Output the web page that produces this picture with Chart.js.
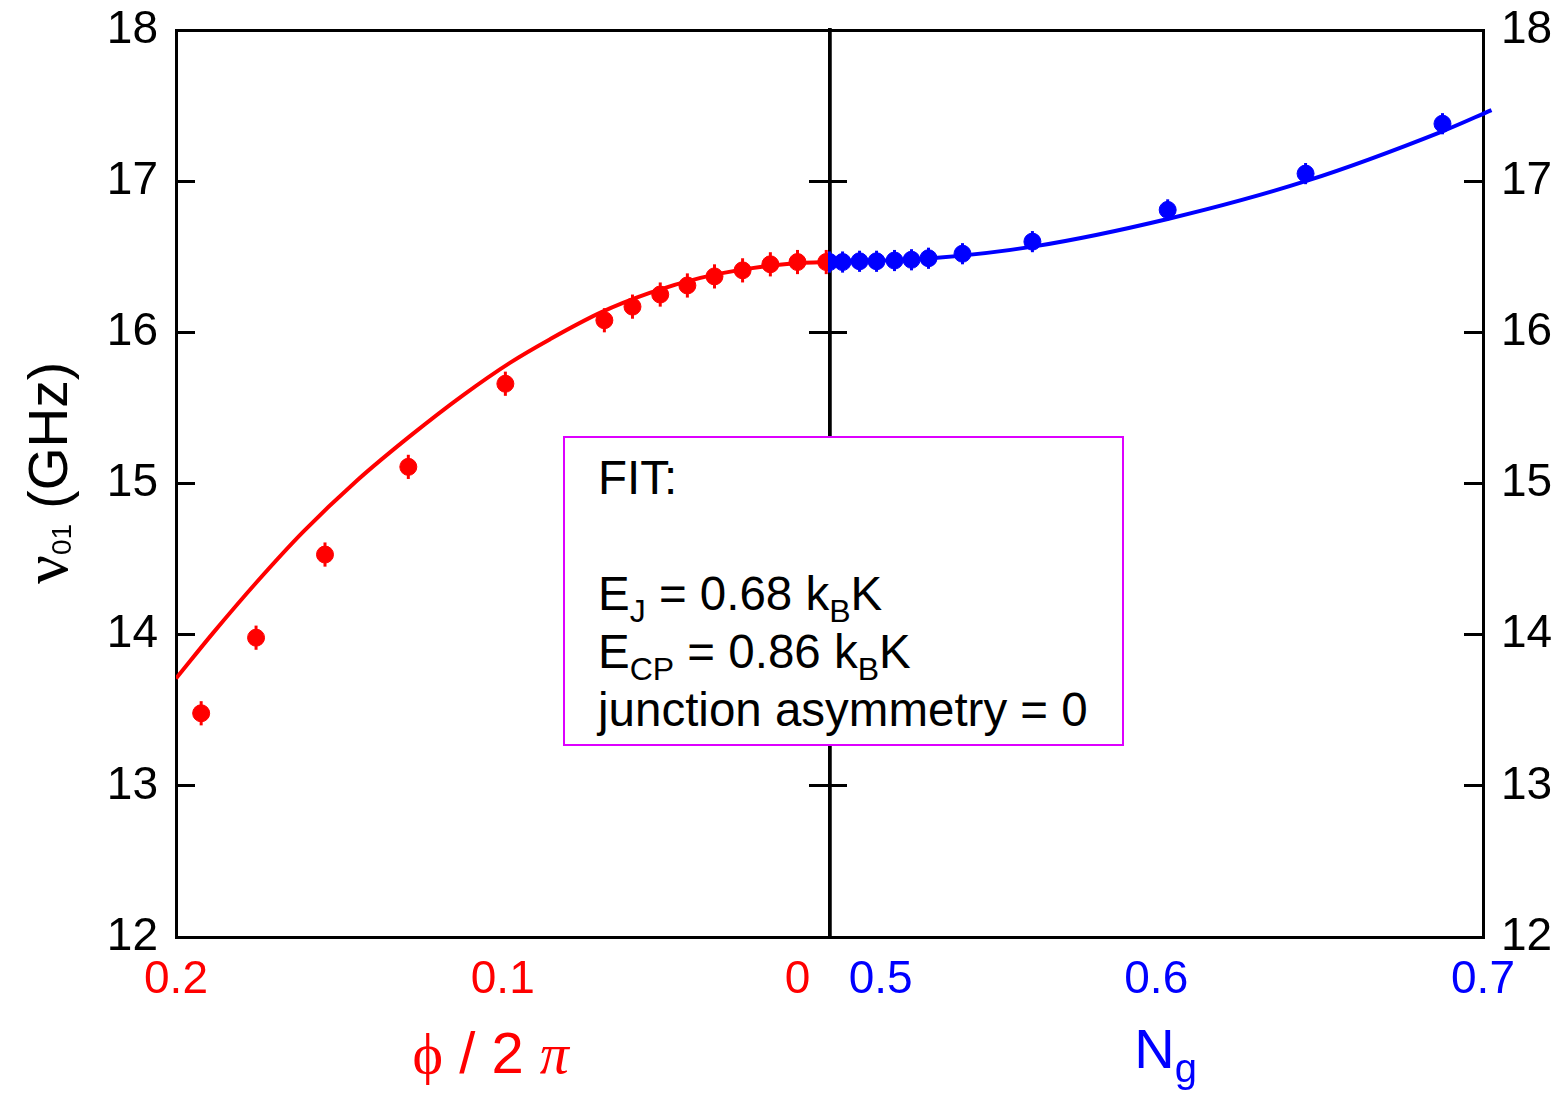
<!DOCTYPE html>
<html>
<head>
<meta charset="utf-8">
<script src="https://cdn.jsdelivr.net/npm/chart.js@4.4.1/dist/chart.umd.min.js"></script>
<style>
  html, body { margin: 0; padding: 0; background: #fff; }
  #wrap { position: relative; width: 1564px; height: 1093px; }
  #fitbox {
    position: absolute; left: 563px; top: 436px; width: 524px; height: 295px;
    padding: 11px 0 0 33px;
    border: 2px solid #dd00ff; background: #fff;
    font: 47.5px 'Liberation Sans', Arial, sans-serif; line-height: 58px; color: #000;
  }
  #fitbox sub { font-size: 32px; line-height: 0; vertical-align: -12px; }
</style>
</head>
<body>
<div id="wrap">
  <canvas id="chart"></canvas>
  <div id="fitbox">
    <div>FIT:</div>
    <div>&nbsp;</div>
    <div>E<sub>J</sub> = 0.68 k<sub>B</sub>K</div>
    <div>E<sub>CP</sub> = 0.86 k<sub>B</sub>K</div>
    <div>junction asymmetry = 0</div>
  </div>
</div>
<script>
// flux side (phi / 2pi), measured points
const phiData   = [0.1923, 0.1755, 0.1544, 0.1289, 0.0992, 0.0689, 0.0603, 0.0518, 0.0435, 0.0352, 0.0266, 0.0181, 0.0098, 0.0010];
const nuPhiData = [13.48, 13.98, 14.53, 15.11, 15.66, 16.08, 16.17, 16.25, 16.31, 16.37, 16.41, 16.45, 16.465, 16.465];
const errPhi    = [0.08, 0.08, 0.08, 0.08, 0.08, 0.08, 0.08, 0.08, 0.08, 0.08, 0.08, 0.08, 0.08, 0.08];
// flux side fit
const phiFit   = [0.200, 0.1887, 0.1752, 0.1611, 0.1446, 0.1283, 0.1121, 0.0977, 0.0855, 0.0701, 0.0548, 0.0395, 0.0242, 0.0089, 0];
const nuPhiFit = [13.71, 14.01, 14.35, 14.68, 15.02, 15.315, 15.585, 15.80, 15.955, 16.13, 16.262, 16.36, 16.423, 16.458, 16.465];

// charge side (Ng), measured points
const ngData   = [0.5, 0.504, 0.5092, 0.5144, 0.5199, 0.5251, 0.5303, 0.5407, 0.5621, 0.6035, 0.6457, 0.6876];
const nuNgData = [16.465, 16.465, 16.47, 16.47, 16.475, 16.48, 16.49, 16.52, 16.60, 16.81, 17.05, 17.38];
const errNg    = [0.07, 0.07, 0.07, 0.07, 0.07, 0.07, 0.07, 0.07, 0.07, 0.07, 0.07, 0.07];
// charge side fit
const ngFit   = [0.5, 0.5312, 0.5622, 0.6035, 0.6457, 0.6876, 0.7026];
const nuNgFit = [16.465, 16.49, 16.567, 16.75, 17.0, 17.33, 17.47];

// ticks
const yTicks = [12, 13, 14, 15, 16, 17, 18];
const phiTicks = [0.2, 0.1, 0];
const phiTickLabels = ['0.2', '0.1', '0'];
const ngTicks = [0.5, 0.6, 0.7];
const ngTickLabels = ['0.5', '0.6', '0.7'];

const RED = '#ff0000';
const BLUE = '#0000ff';
const SANS = "'Liberation Sans', Arial, sans-serif";
const SERIF = "'Liberation Serif', 'DejaVu Serif', serif";

function pts(xs, ys) {
  return xs.map((x, i) => ({ x: x, y: ys[i] }));
}

// error bars, drawn from the dataset's errs array
const errorBars = {
  id: 'errorBars',
  afterDatasetsDraw(chart) {
    const ctx = chart.ctx;
    const y = chart.scales.y;
    chart.data.datasets.forEach(ds => {
      if (!ds.errs) return;
      const xs = chart.scales[ds.xAxisID];
      ctx.save();
      ctx.strokeStyle = ds.backgroundColor;
      ctx.lineWidth = 3;
      ds.data.forEach((p, j) => {
        const px = xs.getPixelForValue(p.x);
        ctx.beginPath();
        ctx.moveTo(px, y.getPixelForValue(p.y - ds.errs[j]));
        ctx.lineTo(px, y.getPixelForValue(p.y + ds.errs[j]));
        ctx.stroke();
      });
      ctx.restore();
    });
  }
};

function drawRich(ctx, parts, x, y, center) {
  let w = 0;
  parts.forEach(p => { ctx.font = p[1]; w += ctx.measureText(p[0]).width; });
  let cx = center ? x - w / 2 : x;
  parts.forEach(p => {
    ctx.font = p[1];
    ctx.fillText(p[0], cx, y + (p[2] || 0));
    cx += ctx.measureText(p[0]).width;
  });
}

// axis titles with subscripts
const axisTitles = {
  id: 'axisTitles',
  afterDraw(chart) {
    const ctx = chart.ctx;
    const xp = chart.scales.xPhi, xn = chart.scales.xNg;
    ctx.save();
    ctx.textBaseline = 'alphabetic';
    ctx.textAlign = 'left';

    ctx.fillStyle = RED;
    drawRich(ctx, [
      ['\u03d5', '58px ' + SERIF],
      [' / 2 ', '58px ' + SANS],
      ['\u03c0', 'italic 58px ' + SERIF]
    ], (xp.left + xp.right) / 2 - 12, 1073, true);

    ctx.fillStyle = BLUE;
    drawRich(ctx, [
      ['N', '56px ' + SANS],
      ['g', '40px ' + SANS, 14]
    ], (xn.left + xn.right) / 2 - 22, 1068, false);

    ctx.fillStyle = '#000';
    ctx.translate(67, 473);
    ctx.rotate(-Math.PI / 2);
    drawRich(ctx, [
      ['\u03bd', '64px ' + SERIF],
      ['01', '28px ' + SANS, 4],
      [' (GHz)', '55px ' + SANS]
    ], 0, 0, true);
    ctx.restore();
  }
};

const tickFont = { family: SANS, size: 46 };

function yFit(width) {
  return s => { s.width = width; s.paddingTop = 0; s.paddingBottom = 0; };
}

new Chart(document.getElementById('chart'), {
  type: 'scatter',
  data: {
    datasets: [
      {
        label: 'fit phi', data: pts(phiFit, nuPhiFit), xAxisID: 'xPhi', yAxisID: 'y',
        showLine: true, borderColor: RED, borderWidth: 4, pointRadius: 0,
        cubicInterpolationMode: 'monotone', order: 4
      },
      {
        label: 'data phi', data: pts(phiData, nuPhiData), errs: errPhi, xAxisID: 'xPhi', yAxisID: 'y',
        backgroundColor: RED, borderColor: RED, pointRadius: 8.5, pointBorderWidth: 1, order: 3
      },
      {
        label: 'fit Ng', data: pts(ngFit, nuNgFit), xAxisID: 'xNg', yAxisID: 'y',
        showLine: true, borderColor: BLUE, borderWidth: 4, pointRadius: 0, clip: false,
        cubicInterpolationMode: 'monotone', order: 2
      },
      {
        label: 'data Ng', data: pts(ngData, nuNgData), errs: errNg, xAxisID: 'xNg', yAxisID: 'y',
        backgroundColor: BLUE, borderColor: BLUE, pointRadius: 8.5, pointBorderWidth: 1, order: 1
      }
    ]
  },
  options: {
    responsive: true,
    maintainAspectRatio: false,
    animation: false,
    layout: { padding: 0 },
    plugins: { legend: { display: false }, tooltip: { enabled: false } },
    scales: {
      xPhi: {
        type: 'linear', position: 'bottom', stack: 'bottomAxes', stackWeight: 1,
        min: 0, max: 0.2, reverse: true,
        afterBuildTicks: s => { s.ticks = phiTicks.map(v => ({ value: v })); },
        afterFit: s => { s.height = 156; },
        ticks: {
          color: RED, font: tickFont, padding: 16, maxRotation: 0, autoSkip: false,
          callback: v => {
            const t = phiTickLabels[phiTicks.indexOf(v)];
            return v === 0 ? t + '     ' : t;
          }
        },
        grid: { display: false, drawTicks: false },
        border: { color: '#000', width: 3 }
      },
      xNg: {
        type: 'linear', position: 'bottom', stack: 'bottomAxes', stackWeight: 1,
        min: 0.5, max: 0.7,
        afterBuildTicks: s => { s.ticks = ngTicks.map(v => ({ value: v })); },
        afterFit: s => { s.height = 156; },
        ticks: {
          color: BLUE, font: tickFont, padding: 16, maxRotation: 0, autoSkip: false,
          callback: v => {
            const t = ngTickLabels[ngTicks.indexOf(v)];
            return v === 0.5 ? '        ' + t : t;
          }
        },
        grid: { display: false, drawTicks: false },
        border: { color: '#000', width: 3 }
      },
      xTop: {
        type: 'linear', position: 'top', min: 0, max: 1,
        afterFit: s => { s.height = 30; },
        ticks: { display: false },
        grid: { display: false, drawTicks: false },
        border: { color: '#000', width: 3 }
      },
      y: {
        type: 'linear', position: 'left', min: 12, max: 18,
        afterBuildTicks: s => { s.ticks = yTicks.map(v => ({ value: v })); },
        afterFit: yFit(176),
        ticks: { color: '#000', font: tickFont, padding: 37 },
        grid: { drawOnChartArea: false, drawTicks: true, tickLength: -19, color: '#000', lineWidth: 3 },
        border: { color: '#000', width: 3 }
      },
      yRight: {
        type: 'linear', position: 'right', min: 12, max: 18,
        afterBuildTicks: s => { s.ticks = yTicks.map(v => ({ value: v })); },
        afterFit: yFit(81),
        ticks: { color: '#000', font: tickFont, padding: 37 },
        grid: { drawOnChartArea: false, drawTicks: true, tickLength: -19, color: '#000', lineWidth: 3 },
        border: { color: '#000', width: 3 }
      },
      yMidL: {
        type: 'linear', position: { xNg: 0.5 }, min: 12, max: 18, z: 1,
        afterBuildTicks: s => { s.ticks = yTicks.map(v => ({ value: v })); },
        ticks: { display: false },
        grid: { drawOnChartArea: false, drawTicks: true, tickLength: 19, color: '#000', lineWidth: 3 },
        border: { color: '#000', width: 3.5 }
      },
      yMidR: {
        type: 'linear', position: { xNg: 0.5 }, min: 12, max: 18, z: 1,
        afterBuildTicks: s => { s.ticks = yTicks.map(v => ({ value: v })); },
        ticks: { display: false },
        grid: { drawOnChartArea: false, drawTicks: true, tickLength: -19, color: '#000', lineWidth: 3 },
        border: { color: '#000', width: 3.5 }
      }
    }
  },
  plugins: [errorBars, axisTitles]
});
</script>
</body>
</html>
